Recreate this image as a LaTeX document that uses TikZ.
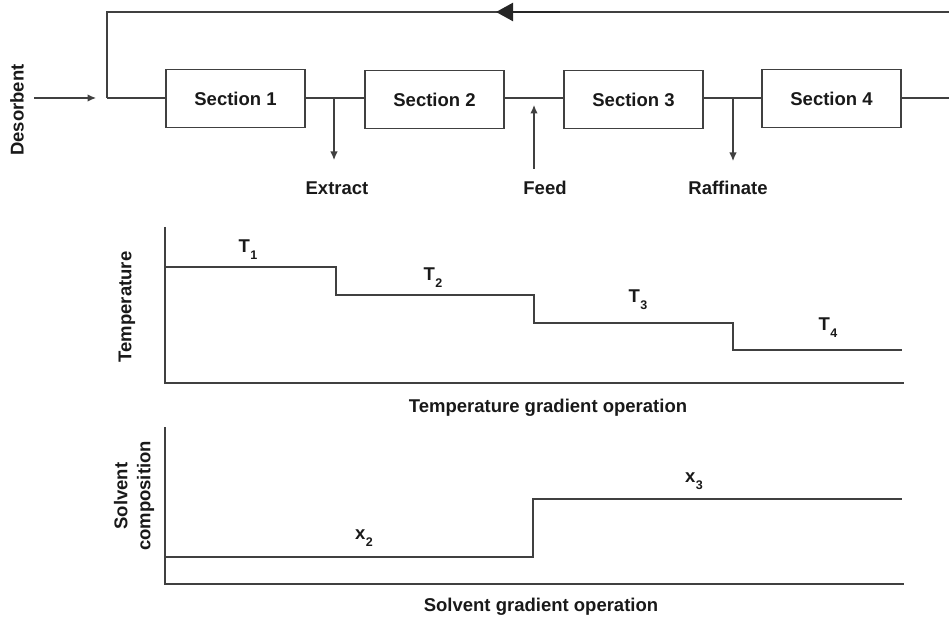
\documentclass[tikz,border=0pt]{standalone}
\usepackage{fontspec}
\setmainfont{Liberation Sans}
\usetikzlibrary{arrows.meta}
\newcommand\lblfont{\fontsize{18.5}{23}\selectfont\bfseries}
\newcommand\sbs[1]{\kern0.5pt\raisebox{-7pt}{\fontsize{12.5}{12.5}\selectfont #1}}
\begin{document}
\begin{tikzpicture}[x=1pt,y=-1pt,
  ln/.style={draw=black!75, line width=1.2pt},
  box/.style={ln, minimum width=139pt, minimum height=58pt, inner sep=0pt, font=\lblfont, text=black!90},
  lbl/.style={font=\lblfont, text=black!90, inner sep=0pt},
  sm/.style={-{Latex[length=8.5pt,width=7.5pt]}},
  ]
\useasboundingbox (0,0) rectangle (949,617);

% ---- process scheme ----
\node[box] (s1) at (235.5,98.5) {Section 1};
\node[box] (s2) at (434.5,99.5) {Section 2};
\node[box] (s3) at (633.5,99.5) {Section 3};
\node[box] (s4) at (831.5,98.5) {Section 4};

\coordinate (in) at (107,98);
\coordinate (tl) at (107,12);
\coordinate (tr) at (949,12);
\coordinate (out) at (949,98);
\coordinate (jE) at (334,98);
\coordinate (jF) at (534,98);
\coordinate (jR) at (733,98);

\draw[ln] (in) -- (in -| s1.west);
\draw[ln] (jE -| s1.east) -- (jE -| s2.west);
\draw[ln] (jF -| s2.east) -- (jF -| s3.west);
\draw[ln] (jR -| s3.east) -- (jR -| s4.west);
\draw[ln] (out -| s4.east) -- (out);
\draw[ln] (tr) -- (tl) -- (in);

% recycle arrow
\coordinate (ra) at (560,12);
\coordinate (rb) at (496,12);
\draw[draw=black!85, line width=2.4pt, -{Triangle[length=17pt,width=18pt]}] (ra) -- (rb);

% desorbent
\node[lbl, rotate=90] (des) at (17,110) {Desorbent};
\coordinate (d0) at (34,98);
\coordinate (d1) at (96,98);
\draw[ln, sm] (d0) -- (d1);

% extract / feed / raffinate
\node[lbl] (ext) at (337,188) {Extract};
\node[lbl] (feed) at (545,188) {Feed};
\node[lbl] (raf) at (728,188) {Raffinate};
\coordinate (eE) at (334,160);
\coordinate (fF) at (534,169);
\coordinate (fT) at (534,105);
\coordinate (eR) at (733,161);
\draw[ln, sm] (jE) -- (eE);
\draw[ln, sm] (fF) -- (fT);
\draw[ln, sm] (jR) -- (eR);

% ---- temperature gradient ----
\coordinate (ta) at (165,227);
\coordinate (to) at (165,383);
\coordinate (tx) at (904,383);
\draw[ln] (ta) -- (to) -- (tx);
\draw[ln] (165,267) -- (336,267) -- (336,295) -- (534,295) -- (534,323) -- (733,323) -- (733,350) -- (902,350);
\node[lbl] (t1) at (248,250) {T\sbs{1}};
\node[lbl] (t2) at (433,278) {T\sbs{2}};
\node[lbl] (t3) at (638,300) {T\sbs{3}};
\node[lbl] (t4) at (828,328) {T\sbs{4}};
\node[lbl, rotate=90] (tlab) at (127,307) {Temperature};
\node[lbl] (tcap) at (548,408) {Temperature gradient operation};

% ---- solvent gradient ----
\coordinate (sa) at (165,427);
\coordinate (so) at (165,584);
\coordinate (sx) at (904,584);
\draw[ln] (sa) -- (so) -- (sx);
\draw[ln] (165,557) -- (533,557) -- (533,499) -- (902,499);
\node[lbl] (x2) at (364,538) {x\sbs{2}};
\node[lbl] (x3) at (694,481) {x\sbs{3}};
\node[lbl, rotate=90, align=center] (slab) at (134,496) {Solvent\\composition};
\node[lbl] (scap) at (541,607) {Solvent gradient operation};
\end{tikzpicture}
\end{document}
